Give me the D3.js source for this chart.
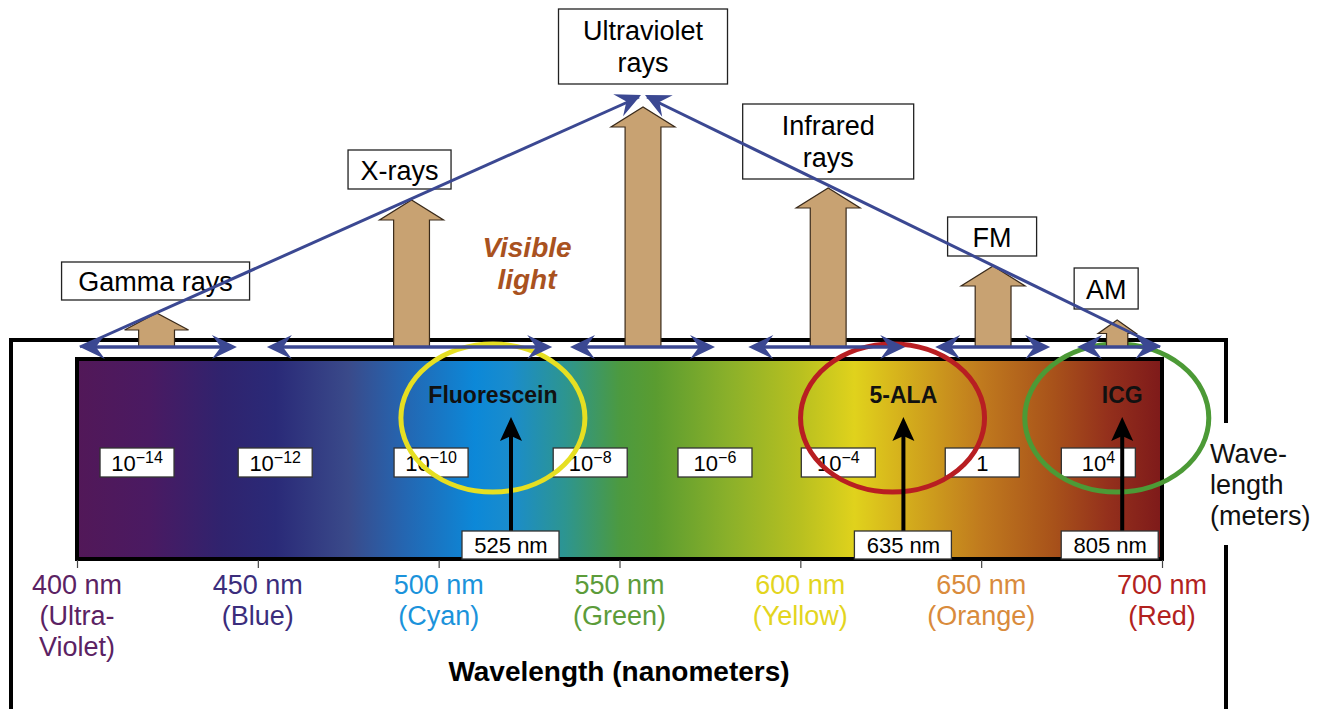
<!DOCTYPE html>
<html>
<head>
<meta charset="utf-8">
<script src="https://cdn.jsdelivr.net/npm/d3@7"></script>
<style>
  body { margin: 0; background: #fff; }
  text { font-family: "Liberation Sans", Arial, sans-serif; }
</style>
</head>
<body>
<div id="chart"></div>
<script>
// data
var tickNm = [400, 450, 500, 550, 600, 650, 700];
var tickColorName = ["(Ultra-|Violet)", "(Blue)", "(Cyan)", "(Green)", "(Yellow)", "(Orange)", "(Red)"];
var tickColors = ["#5b2263", "#3b2d7c", "#1b93db", "#5c9c3a", "#e3d51e", "#d98b3c", "#b2221e"];

var spectrumNm = [400, 420, 440, 455, 475, 490, 510, 520, 535, 550, 560, 580, 600, 615, 625, 650, 670, 685, 700];
var spectrumColors = ["#521858", "#4a1a62", "#30236e", "#2a2a78", "#3a4a8a", "#2565b0", "#0c88d8", "#1a8ccc",
  "#2d9590", "#4c9a40", "#5a9c30", "#8ab02a", "#b8c020", "#e0d21c", "#d8b81c", "#c07a1e", "#a8521a", "#94301c", "#7e1a1a"];

var powerLabels = [["10", "\u221214"], ["10", "\u221212"], ["10", "\u221210"], ["10", "\u22128"],
  ["10", "\u22126"], ["10", "\u22124"], ["1", ""], ["10", "4"]];
var powerNm = [416.6, 454.8, 497.9, 541.9, 576.4, 610.5, 650.3, 682.4];

var bandNames = ["Gamma rays", "X-rays", "Ultraviolet|rays", "Infrared|rays", "FM", "AM"];
var bandNm = [422, 492.5, 556.5, 607.7, 653.3, 687.6];
var bandHeight = [34, 147, 240, 159, 81, 27];

var spanStart = [400.8, 452.5, 536.3, 585.6, 637.3, 676.5];
var spanEnd = [444.2, 531.4, 576.4, 629, 669.1, 699.5];

var dyeNames = ["Fluorescein", "5-ALA", "ICG"];
var dyeNm = [525, 635, 805];
var dyeMarkNm = [520, 628.5, 689];
var dyeCircleNm = [515, 625.5, 687.5];
var dyeCircleColors = ["#e6df22", "#b81e22", "#4c9a36"];

var svgWidth = 1333;
var svgHeight = 709;

var svg = d3.select("#chart")
  .append("svg")
  .attr("width", svgWidth)
  .attr("height", svgHeight);

// scales
var x = d3.scaleLinear().domain([400, 700]).range([77, 1162]);
var barTop = 359, barBottom = 559;
var base = 347;
var yUp = d3.scaleLinear().domain([0, 250]).range([base, base - 250]);

var blue = "#3b4892";
var tan = "#c8a272";

// outer frame
svg.append("path")
  .attr("d", "M11,720 L11,340 L1226,340 L1226,423 M1226,545 L1226,720")
  .attr("fill", "none")
  .attr("stroke", "#000")
  .attr("stroke-width", 4);

// gradient
var defs = svg.append("defs");
var grad = defs.append("linearGradient")
  .attr("id", "spec")
  .attr("x1", "0%").attr("x2", "100%").attr("y1", "0%").attr("y2", "0%");
grad.selectAll("stop")
  .data(spectrumNm)
  .enter()
  .append("stop")
  .attr("offset", d => ((d - 400) / 300 * 100) + "%")
  .attr("stop-color", (d, i) => spectrumColors[i]);

svg.append("rect")
  .attr("x", x(400))
  .attr("y", barTop)
  .attr("width", x(700) - x(400))
  .attr("height", barBottom - barTop)
  .attr("fill", "url(#spec)")
  .attr("stroke", "#000")
  .attr("stroke-width", 4);

// bottom axis ticks
var axis = d3.axisBottom(x).tickValues(tickNm).tickSize(8).tickFormat("");
var axisG = svg.append("g")
  .attr("transform", `translate(0, ${barBottom + 1})`)
  .call(axis);
axisG.select(".domain").remove();
axisG.selectAll(".tick line").attr("stroke", "#444").attr("stroke-width", 1.2);

var tickLab = svg.append("g").selectAll("text")
  .data(tickNm)
  .enter()
  .append("text")
  .attr("x", d => x(d))
  .attr("y", 594)
  .attr("text-anchor", "middle")
  .attr("font-size", "27px")
  .attr("fill", (d, i) => tickColors[i]);
tickLab.each(function(d, i) {
  var t = d3.select(this);
  var lines = [d + " nm"].concat(tickColorName[i].split("|"));
  lines.forEach(function(l, j) {
    t.append("tspan").attr("x", x(d)).attr("dy", j == 0 ? 0 : 31).attr("textLength", null).text(l);
  });
});

svg.append("text")
  .attr("x", 619)
  .attr("y", 681)
  .attr("text-anchor", "middle")
  .attr("font-size", "28px")
  .attr("font-weight", "bold")
  .attr("fill", "#000")
  .text("Wavelength (nanometers)");

// meters label
var wl = svg.append("text")
  .attr("x", 1210)
  .attr("y", 463)
  .attr("font-size", "27px")
  .attr("fill", "#111");
["Wave-", "length", "(meters)"].forEach(function(l, j) {
  wl.append("tspan").attr("x", 1210).attr("dy", j == 0 ? 0 : 31).text(l);
});

// power of ten labels
var pw = svg.append("g").selectAll("g")
  .data(powerLabels)
  .enter()
  .append("g")
  .attr("transform", (d, i) => `translate(${x(powerNm[i])}, 463)`);
pw.append("rect")
  .attr("x", -37).attr("y", -15).attr("width", 74).attr("height", 29)
  .attr("fill", "#fff").attr("stroke", "#333").attr("stroke-width", 1.3);
var pwt = pw.append("text")
  .attr("text-anchor", "middle")
  .attr("y", 8)
  .attr("font-size", "22px")
  .attr("fill", "#000");
pwt.append("tspan").text(d => d[0]);
pwt.append("tspan")
  .attr("dy", -8)
  .attr("font-size", "16px")
  .text(d => d[1]);

// circles around dyes
svg.append("g").selectAll("ellipse")
  .data(dyeNames)
  .enter()
  .append("ellipse")
  .attr("cx", (d, i) => x(dyeCircleNm[i]))
  .attr("cy", 418)
  .attr("rx", 92)
  .attr("ry", 74)
  .attr("fill", "none")
  .attr("stroke", (d, i) => dyeCircleColors[i])
  .attr("stroke-width", 5);

// dye labels
svg.append("g").selectAll("text")
  .data(dyeNames)
  .enter()
  .append("text")
  .attr("x", (d, i) => i == 0 ? x(dyeCircleNm[i]) : x(dyeMarkNm[i]))
  .attr("y", 403)
  .attr("text-anchor", "middle")
  .attr("font-size", "23px")
  .attr("font-weight", "bold")
  .attr("fill", "#111")
  .text(d => d);

// dye arrows
var da = svg.append("g").selectAll("g")
  .data(dyeNames)
  .enter()
  .append("g")
  .attr("transform", (d, i) => `translate(${x(dyeMarkNm[i])}, 0)`);
da.append("line")
  .attr("x1", 0).attr("x2", 0).attr("y1", 535).attr("y2", 432)
  .attr("stroke", "#000").attr("stroke-width", 4);
da.append("path")
  .attr("d", "M0,417 L-11,441 L0,436 L11,441 Z")
  .attr("fill", "#000");

// nm boxes
var nb = svg.append("g").selectAll("g")
  .data(dyeNm)
  .enter()
  .append("g")
  .attr("transform", (d, i) => `translate(${x(dyeMarkNm[i]) + (i == 2 ? -12 : 0)}, 545)`);
nb.append("rect")
  .attr("x", -49).attr("y", -14).attr("width", 97).attr("height", 28)
  .attr("fill", "#fff").attr("stroke", "#333").attr("stroke-width", 1.3);
nb.append("text")
  .attr("text-anchor", "middle")
  .attr("y", 8)
  .attr("font-size", "22px")
  .attr("fill", "#000")
  .text(d => d + " nm");

// tan arrows (energy bands)
function upArrow(h, hw) {
  var sw = hw * 0.56, headH = Math.min(20, h * 0.5);
  return `M${-sw},0 L${-sw},${-h + headH} L${-hw},${-h + headH} L0,${-h} L${hw},${-h + headH} L${sw},${-h + headH} L${sw},0 Z`;
}
svg.append("g").selectAll("path")
  .data(bandHeight)
  .enter()
  .append("path")
  .attr("transform", (d, i) => `translate(${x(bandNm[i])}, ${base})`)
  .attr("d", (d, i) => upArrow(yUp(0) - yUp(d), d < 30 ? 19 : 32))
  .attr("fill", tan)
  .attr("stroke", "#3a2a1a")
  .attr("stroke-width", 1.2);

// band label boxes
var boxSize = { "Gamma rays": [188, 38, 13, -1], "X-rays": [103, 39, 11, -12], "Ultraviolet|rays": [169, 75, 23, 0],
  "Infrared|rays": [171, 75, 9, 0], "FM": [89, 39, 10, -1], "AM": [64, 41, 11, -11] };
var bl = svg.append("g").selectAll("g")
  .data(bandNames)
  .enter()
  .append("g")
  .attr("transform", function(d, i) {
    var s = boxSize[d];
    return `translate(${x(bandNm[i]) + s[3]}, ${yUp(bandHeight[i]) - s[2]})`;
  });
bl.append("rect")
  .attr("x", d => -boxSize[d][0] / 2)
  .attr("y", d => -boxSize[d][1])
  .attr("width", d => boxSize[d][0])
  .attr("height", d => boxSize[d][1])
  .attr("fill", "#fff")
  .attr("stroke", "#222")
  .attr("stroke-width", 1.3);
bl.each(function(d) {
  var g = d3.select(this);
  var lines = d.split("|");
  var h = boxSize[d][1];
  lines.forEach(function(l, j) {
    g.append("text")
      .attr("text-anchor", "middle")
      .attr("y", lines.length > 1 ? -h + 31 + j * 32 : -h / 2 + 10)
      .attr("font-size", "27px")
      .attr("fill", "#000")
      .text(l);
  });
});

// visible light
var vl = svg.append("text")
  .attr("x", 527)
  .attr("y", 257)
  .attr("text-anchor", "middle")
  .attr("font-size", "28px")
  .attr("font-weight", "bold")
  .attr("font-style", "italic")
  .attr("fill", "#a9521f");
vl.append("tspan").attr("x", 527).text("Visible");
vl.append("tspan").attr("x", 527).attr("dy", 32).text("light");

// blue arrowheads
function head(px, py, ang) {
  // stealth-like head pointing in direction ang (radians), tip at px,py
  var L = 25, W = 12, back = 16;
  var c = Math.cos(ang), s = Math.sin(ang);
  function p(u, v) { return [px + u * c - v * s, py + u * s + v * c]; }
  var pts = [p(0, 0), p(-L, -W), p(-back, 0), p(-L, W)];
  return "M" + pts.map(q => q[0].toFixed(1) + "," + q[1].toFixed(1)).join("L") + "Z";
}

var spans = svg.append("g");
spanStart.forEach(function(s, i) {
  var x0 = x(s), x1 = x(spanEnd[i]);
  spans.append("line")
    .attr("x1", x0 + 10).attr("x2", x1 - 10).attr("y1", base).attr("y2", base)
    .attr("stroke", blue).attr("stroke-width", 3.5);
  spans.append("path").attr("d", head(x0, base, Math.PI)).attr("fill", blue);
  spans.append("path").attr("d", head(x1, base, 0)).attr("fill", blue);
});

// big triangle
var apexX = x(bandNm[2]), apexY = yUp(bandHeight[2]) - 12;
var lx = x(spanStart[0]), rx = x(spanEnd[5]);
var tri = svg.append("g");
tri.append("line")
  .attr("x1", lx).attr("y1", base).attr("x2", apexX - 4).attr("y2", apexY + 2)
  .attr("stroke", blue).attr("stroke-width", 3);
tri.append("line")
  .attr("x1", rx).attr("y1", base).attr("x2", apexX + 4).attr("y2", apexY + 2)
  .attr("stroke", blue).attr("stroke-width", 3);
tri.append("path").attr("d", head(apexX - 2, apexY, Math.atan2(apexY - base, apexX - lx))).attr("fill", blue);
tri.append("path").attr("d", head(apexX + 2, apexY, Math.atan2(apexY - base, apexX - rx))).attr("fill", blue);
</script>
</body>
</html>
